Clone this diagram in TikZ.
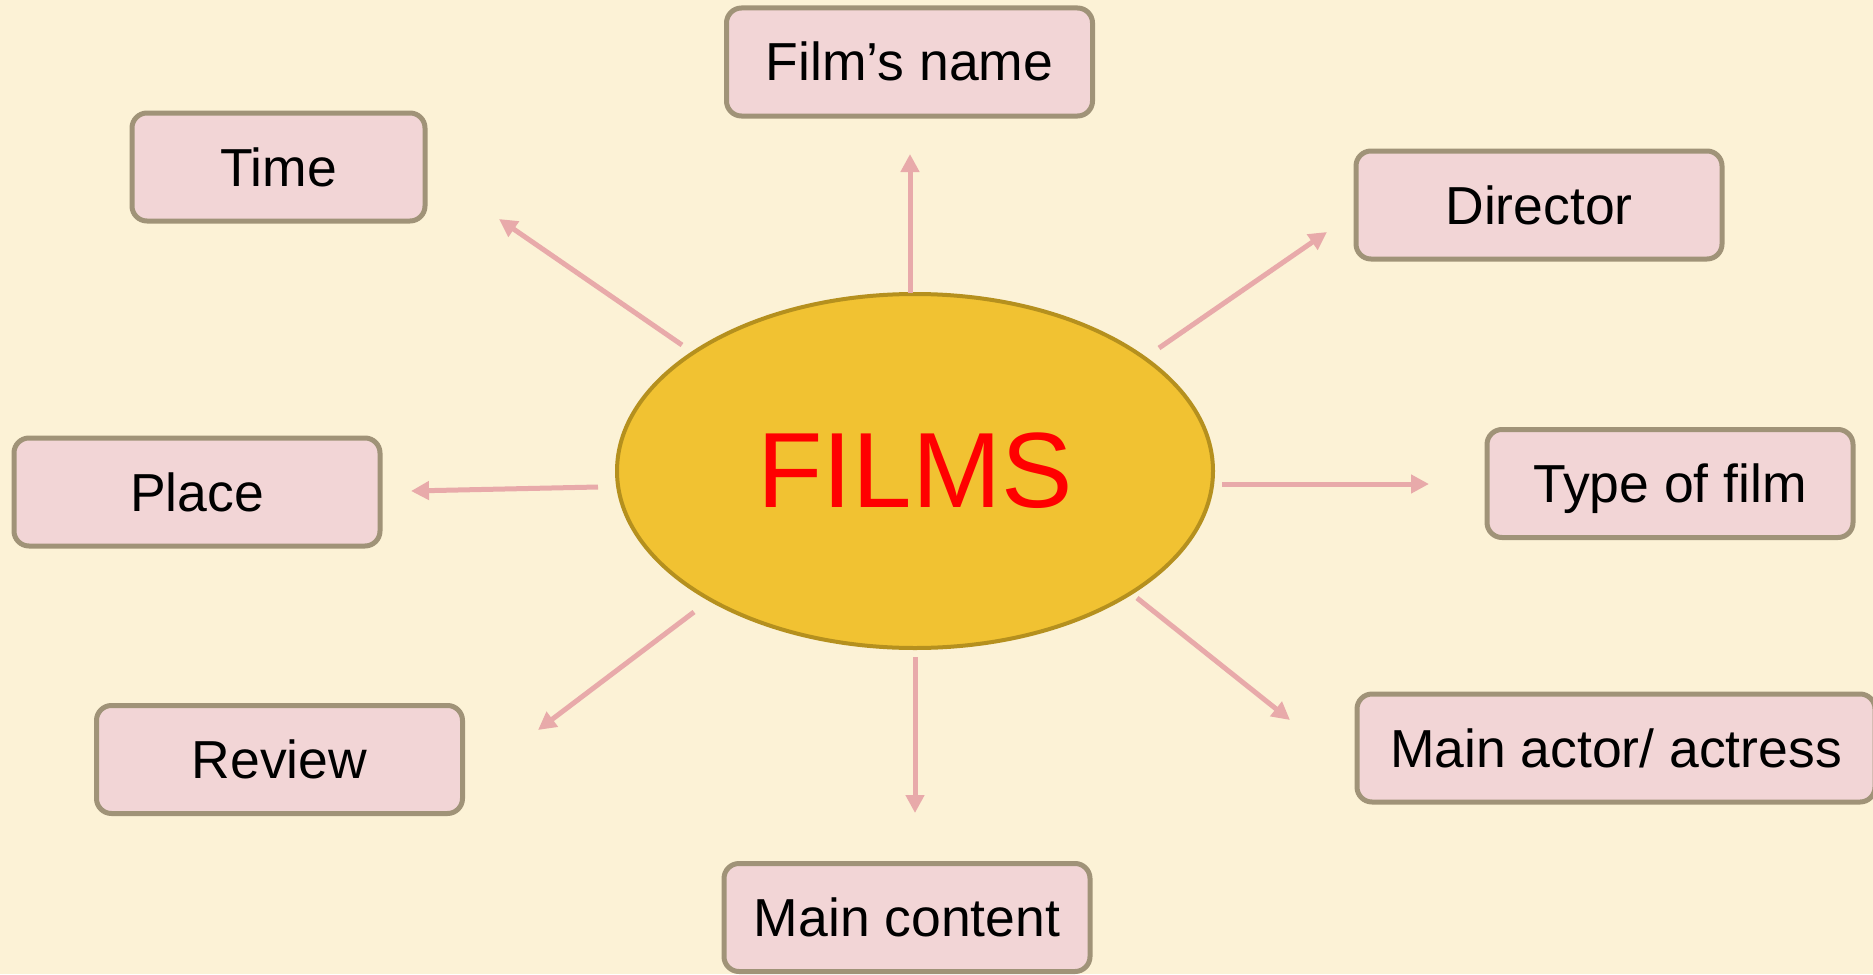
\documentclass[tikz,border=0pt]{standalone}
\usepackage{fontspec}
\setmainfont{Liberation Sans}
\usetikzlibrary{shapes.geometric,arrows.meta}
\definecolor{bg}{HTML}{FCF2D6}
\definecolor{boxfill}{HTML}{F2D5D6}
\definecolor{boxline}{HTML}{A09378}
\definecolor{ellfill}{HTML}{F1C232}
\definecolor{ellline}{HTML}{B5901E}
\definecolor{arr}{HTML}{E8AAAA}
\definecolor{filmred}{HTML}{FF0000}
\tikzset{
  topic/.style={draw=boxline, fill=boxfill, line width=5pt, rounded corners=15pt,
    minimum width=366pt, minimum height=108pt, inner sep=0pt,
    font=\fontsize{53.5}{60}\selectfont, text height=38pt, text depth=0pt},
  link/.style={draw=arr, line width=5pt, -{Triangle[length=18pt,width=18pt]}},
}
\begin{document}
\begin{tikzpicture}[x=1pt,y=-1pt]
\fill[bg] (0,0) rectangle (1873,974);
\useasboundingbox (0,0) rectangle (1873,974);
\node[ellipse, draw=ellline, fill=ellfill, line width=4pt, minimum width=596pt,
  minimum height=354pt, inner sep=0pt, text=filmred,
  font=\fontsize{107}{120}\selectfont] (films) at (915,471) {FILMS};
\node[topic] (name) at (909.5,62) {Film’s name};
\node[topic, minimum width=293pt] (time) at (278.5,167) {Time};
\node[topic] (director) at (1539,205) {Director};
\node[topic] (place) at (197,492) {Place};
\node[topic] (type) at (1670,483.5) {Type of film};
\node[topic] (review) at (279.5,759.5) {Review};
\node[topic, minimum width=518pt] (actor) at (1616,748) {Main actor/ actress};
\node[topic] (content) at (907,917.5) {Main content};
% arrow end points
\coordinate (s1) at (910,293);  \coordinate (e1) at (910,154);
\coordinate (s2) at (682,345);  \coordinate (e2) at (499,219);
\coordinate (s3) at (1159,348); \coordinate (e3) at (1327,232);
\coordinate (s4) at (598,487);  \coordinate (e4) at (411,491);
\coordinate (s5) at (1222,484); \coordinate (e5) at (1429,484);
\coordinate (s6) at (694,612);  \coordinate (e6) at (538,730);
\coordinate (s7) at (915,657);  \coordinate (e7) at (915,813);
\coordinate (s8) at (1137,598); \coordinate (e8) at (1290,720);
\draw[link] (s1) -- (e1);
\draw[link] (s2) -- (e2);
\draw[link] (s3) -- (e3);
\draw[link] (s4) -- (e4);
\draw[link] (s5) -- (e5);
\draw[link] (s6) -- (e6);
\draw[link] (s7) -- (e7);
\draw[link] (s8) -- (e8);
\end{tikzpicture}
\end{document}
